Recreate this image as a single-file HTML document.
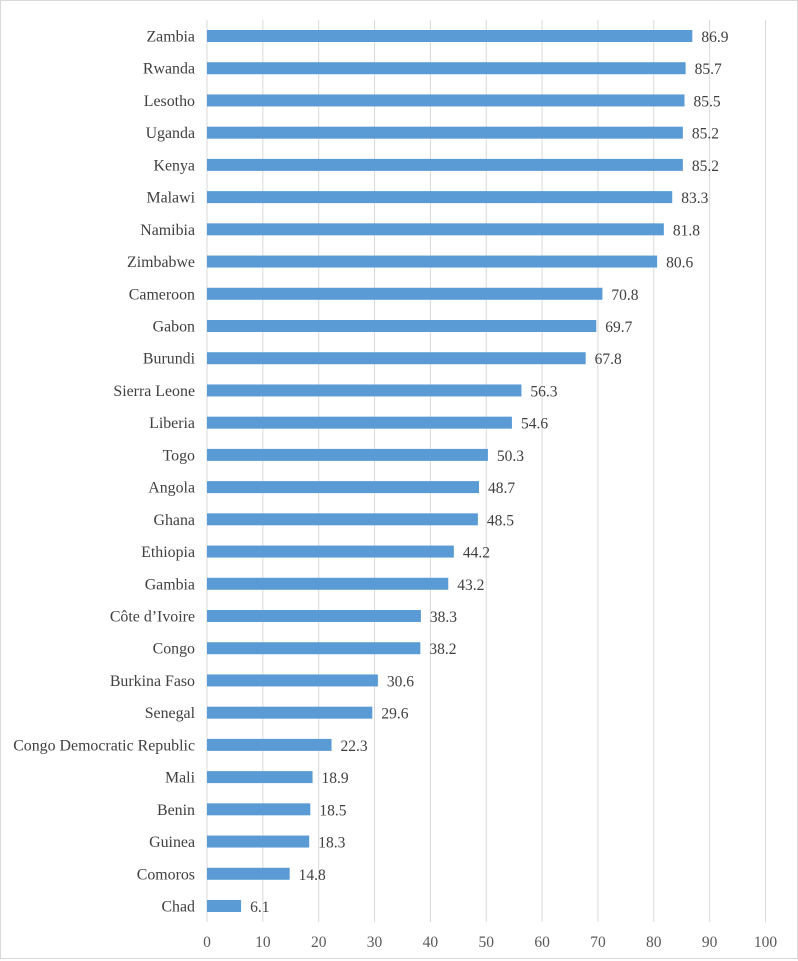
<!DOCTYPE html>
<html><head><meta charset="utf-8"><style>
body{margin:0;background:#fff;}
svg{display:block;font-family:"Liberation Serif",serif;}
</style></head><body>
<svg width="798" height="961">
<rect x="0.5" y="0.5" width="797" height="958" fill="#fff" stroke="#d9d9d9"/>
<g id="grid"></g><g id="bars"></g><g id="labels"></g>
</svg>
<script>
const categories=["Zambia","Rwanda","Lesotho","Uganda","Kenya","Malawi","Namibia","Zimbabwe","Cameroon","Gabon","Burundi","Sierra Leone","Liberia","Togo","Angola","Ghana","Ethiopia","Gambia","Côte d’Ivoire","Congo","Burkina Faso","Senegal","Congo Democratic Republic","Mali","Benin","Guinea","Comoros","Chad"];
const values=[86.9,85.7,85.5,85.2,85.2,83.3,81.8,80.6,70.8,69.7,67.8,56.3,54.6,50.3,48.7,48.5,44.2,43.2,38.3,38.2,30.6,29.6,22.3,18.9,18.5,18.3,14.8,6.1];
const ticks=[0,10,20,30,40,50,60,70,80,90,100];
const NS="http://www.w3.org/2000/svg";
const x0=207,pxPerUnit=5.585;
function xs(v){return x0+v*pxPerUnit;}
const yTop=36,yBot=906;
function ys(i){return yTop+i*(yBot-yTop)/(categories.length-1);}
function mk(tag,attrs,parent){const e=document.createElementNS(NS,tag);for(const k in attrs)e.setAttribute(k,attrs[k]);document.getElementById(parent).appendChild(e);return e;}
ticks.forEach(t=>{
  const l=mk("line",{x1:xs(t),x2:xs(t),y1:20,y2:922,stroke:"#d9d9d9","stroke-width":1},"grid");
  
  
  const tx=mk("text",{x:xs(t),y:947,"text-anchor":"middle","font-size":"15.5",fill:"#595959"},"grid");
  tx.textContent=t;
  
  
});
categories.forEach((c,i)=>{
  const y=ys(i);
  const r=mk("rect",{x:x0,y:y-6,width:xs(values[i])-x0,height:12,fill:"#5b9bd5"},"bars");
  
  
  const cl=mk("text",{x:195,y:y+5.5,"text-anchor":"end","font-size":"15.9",fill:"#404040"},"labels");
  cl.textContent=c;
  
  
  const vl=mk("text",{x:xs(values[i])+9,y:y+6,"font-size":"15.5",fill:"#404040"},"labels");
  vl.textContent=values[i].toFixed(1);
  
  
});
</script>
</body></html>
